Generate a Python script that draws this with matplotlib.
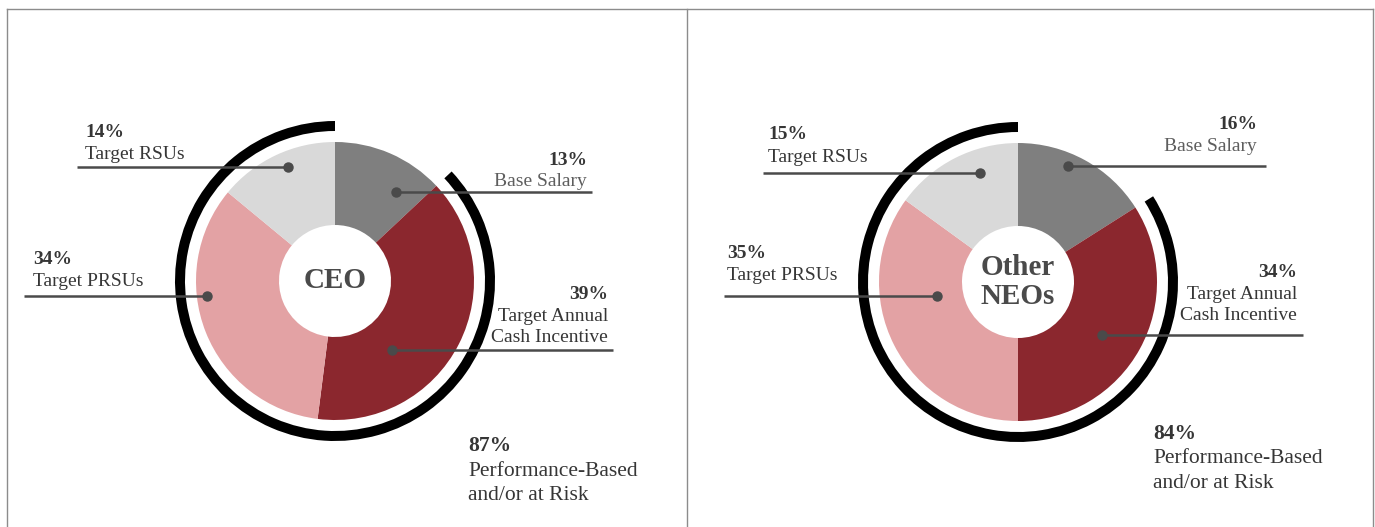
import matplotlib
matplotlib.use("Agg")
import matplotlib.pyplot as plt

# data
components = ["Base Salary", "Target Annual\nCash Incentive", "Target PRSUs", "Target RSUs"]
ceo_pct = [13, 39, 34, 14]
neo_pct = [16, 34, 35, 15]
ceo_at_risk = 87
neo_at_risk = 84
colors = ["#7f7f7f", "#8b272e", "#e3a2a4", "#d9d9d9"]

TXT = "#363636"
LINE = "#4a4a4a"
H = 527

plt.rcParams["font.family"] = ["Liberation Serif", "DejaVu Serif"]

fig = plt.figure(figsize=(13.75, 5.27), dpi=100)
ax = fig.add_axes([0, 0, 1, 1])


def py(y):
    # pixel row -> data y
    return H - y


def donut(cx, cy, pct, at_risk, title):
    ax.pie(pct, colors=colors, startangle=90, counterclock=False,
           radius=139, center=(cx, py(cy)),
           wedgeprops=dict(width=139 - 56, linewidth=0))
    ax.pie([at_risk, 100 - at_risk], colors=["black", "none"], startangle=90,
           counterclock=True, radius=160, center=(cx, py(cy)),
           wedgeprops=dict(width=10, linewidth=0))
    ax.text(cx, py(cy), title, ha="center", va="center", fontsize=21,
            fontweight="bold", color="#4a4a4a", linespacing=1.1)


def leader(dot, x_end, y, lines, x_txt, ha, base_ys, pct_color=TXT, txt_color=TXT):
    ax.plot([dot, x_end], [py(y), py(y)], color=LINE, lw=1.8, solid_capstyle="butt")
    ax.plot([dot], [py(y)], "o", color=LINE, ms=6.5)
    for i, (s, by) in enumerate(zip(lines, base_ys)):
        ax.text(x_txt, py(by), s, ha=ha, va="baseline", fontsize=14,
                fontweight="bold" if i == 0 else "normal",
                color=pct_color if i == 0 else txt_color)


def risk_label(x, ys, val):
    ax.text(x, py(ys[0]), f"{val}%", ha="left", va="baseline", fontsize=15.5,
            fontweight="bold", color=TXT)
    ax.text(x, py(ys[1]), "Performance-Based", ha="left", va="baseline",
            fontsize=15.5, color=TXT)
    ax.text(x, py(ys[2]), "and/or at Risk", ha="left", va="baseline",
            fontsize=15.5, color=TXT)


# CEO panel
donut(335, 281, ceo_pct, ceo_at_risk, "CEO")
leader(288, 77, 167, [f"{ceo_pct[3]}%", components[3]], 85, "left", [137, 159])
leader(207, 24, 296, [f"{ceo_pct[2]}%", components[2]], 33, "left", [264, 286])
leader(396, 592, 192, [f"{ceo_pct[0]}%", components[0]], 587, "right", [165, 186],
       txt_color="#5e5e5e")
leader(392, 613, 350, [f"{ceo_pct[1]}%"] + components[1].split("\n"), 608, "right",
       [299, 321, 342])
risk_label(468, [451, 476, 500], ceo_at_risk)

# Other NEOs panel
donut(1018, 282, neo_pct, neo_at_risk, "Other\nNEOs")
leader(980, 763, 173, [f"{neo_pct[3]}%", components[3]], 768, "left", [139, 162])
leader(937, 724, 296, [f"{neo_pct[2]}%", components[2]], 727, "left", [258, 280])
leader(1068, 1266, 166, [f"{neo_pct[0]}%", components[0]], 1257, "right", [129, 151],
       txt_color="#5e5e5e")
leader(1102, 1303, 335, [f"{neo_pct[1]}%"] + components[1].split("\n"), 1297, "right",
       [277, 299, 320])
risk_label(1153, [439, 463, 488], neo_at_risk)

# panel frame
frame = dict(color="#8c8c8c", lw=1.0)
ax.plot([7, 1373], [py(9), py(9)], **frame)
for x in (7, 687, 1373):
    ax.plot([x, x], [py(9), 0], **frame)

ax.set_xlim(0, 1375)
ax.set_ylim(0, H)
ax.set_aspect("auto")
ax.axis("off")

fig.savefig("out.png", dpi=100, facecolor="white")
